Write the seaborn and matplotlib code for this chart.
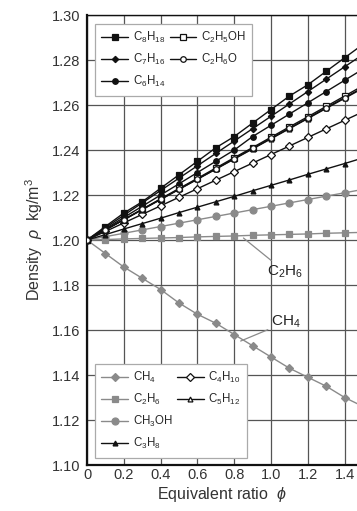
import matplotlib
matplotlib.use("Agg")
import matplotlib.pyplot as plt
from matplotlib.lines import Line2D
import seaborn as sns

# equivalent ratio
phi = [0.0, 0.1, 0.2, 0.3, 0.4, 0.5, 0.6, 0.7, 0.8, 0.9, 1.0, 1.1, 1.2, 1.3, 1.4, 1.5]

# density (kg/m3)
c8h18 = [1.200, 1.206, 1.212, 1.217, 1.223, 1.229, 1.235, 1.241, 1.246, 1.252, 1.258, 1.264, 1.269, 1.275, 1.281, 1.287]
c7h16 = [1.200, 1.2055, 1.211, 1.2165, 1.222, 1.2275, 1.233, 1.2385, 1.244, 1.2495, 1.255, 1.2605, 1.266, 1.2715, 1.277, 1.2825]
c6h14 = [1.200, 1.205, 1.210, 1.215, 1.220, 1.225, 1.230, 1.235, 1.240, 1.246, 1.251, 1.256, 1.261, 1.266, 1.271, 1.276]
c2h5oh = [1.200, 1.2046, 1.2091, 1.2137, 1.2183, 1.2229, 1.2274, 1.232, 1.2366, 1.2411, 1.2457, 1.2503, 1.2548, 1.2594, 1.264, 1.2686]
c2h6o = [1.200, 1.2045, 1.209, 1.2136, 1.2181, 1.2226, 1.2271, 1.2316, 1.2362, 1.2407, 1.2452, 1.2497, 1.2542, 1.2588, 1.2633, 1.2678]
c5h12 = [1.200, 1.2045, 1.209, 1.2135, 1.218, 1.2225, 1.227, 1.2315, 1.236, 1.2405, 1.245, 1.2495, 1.254, 1.2585, 1.263, 1.2675]
c4h10 = [1.200, 1.2038, 1.2076, 1.2114, 1.2152, 1.219, 1.2228, 1.2266, 1.2304, 1.2342, 1.238, 1.2418, 1.2456, 1.2494, 1.2532, 1.257]
c3h8 = [1.200, 1.2024, 1.2049, 1.2073, 1.2097, 1.2122, 1.2146, 1.217, 1.2194, 1.2219, 1.2243, 1.2267, 1.2292, 1.2316, 1.234, 1.2365]
ch3oh = [1.200, 1.2015, 1.203, 1.2045, 1.206, 1.2075, 1.209, 1.2105, 1.212, 1.2135, 1.215, 1.2165, 1.218, 1.2195, 1.221, 1.2225]
c2h6 = [1.200, 1.2002, 1.2005, 1.2007, 1.2009, 1.2011, 1.2014, 1.2016, 1.2018, 1.2021, 1.2023, 1.2025, 1.2027, 1.203, 1.2032, 1.2034]
ch4 = [1.200, 1.194, 1.188, 1.183, 1.178, 1.172, 1.167, 1.163, 1.158, 1.153, 1.148, 1.143, 1.139, 1.135, 1.130, 1.126]

x_ticks = [0, 0.2, 0.4, 0.6, 0.8, 1.0, 1.2, 1.4]
x_tick_labels = ["0", "0.2", "0.4", "0.6", "0.8", "1.0", "1.2", "1.4"]
y_ticks = [1.10, 1.12, 1.14, 1.16, 1.18, 1.20, 1.22, 1.24, 1.26, 1.28, 1.30]

sns.set_style("white")
plt.rcParams['font.family'] = ['Liberation Sans', 'DejaVu Sans']
plt.rcParams['mathtext.fontset'] = 'custom'
plt.rcParams['mathtext.rm'] = 'Liberation Sans'
plt.rcParams['mathtext.it'] = 'Liberation Sans:italic'

BLACK = "#111111"
GRAY = "#8a8a8a"

fig = plt.figure(figsize=(3.57, 5.11), dpi=100)
ax = fig.add_axes([0.2437, 0.09, 0.7563, 0.8806])

# (label, values, color, marker, size, fill)
series_top = [
    ("C$_8$H$_{18}$", c8h18, BLACK, "s", 4, BLACK),
    ("C$_7$H$_{16}$", c7h16, BLACK, "D", 3.2, BLACK),
    ("C$_6$H$_{14}$", c6h14, BLACK, "o", 4, BLACK),
    ("C$_2$H$_5$OH", c2h5oh, BLACK, "s", 4, "white"),
    ("C$_2$H$_6$O", c2h6o, BLACK, "o", 4, "white"),
]
series_bottom = [
    ("CH$_4$", ch4, GRAY, "D", 4.5, GRAY),
    ("C$_2$H$_6$", c2h6, GRAY, "s", 4.5, GRAY),
    ("CH$_3$OH", ch3oh, GRAY, "o", 5, GRAY),
    ("C$_3$H$_8$", c3h8, BLACK, "^", 3.5, BLACK),
    ("C$_4$H$_{10}$", c4h10, BLACK, "D", 4.5, "white"),
    ("C$_5$H$_{12}$", c5h12, BLACK, "^", 3.5, "white"),
]

handles_top = []
handles_bottom = []
for group, handles in ((series_bottom, handles_bottom), (series_top, handles_top)):
    for label, vals, col, mk, ms, fc in group:
        sns.lineplot(x=phi, y=vals, ax=ax, color=col, marker=mk, markersize=ms,
                     markerfacecolor=fc, markeredgecolor=col, markeredgewidth=0.9,
                     linewidth=1.0, zorder=3)
        handles.append(Line2D([], [], color=col, marker=mk, markersize=ms,
                              markerfacecolor=fc, markeredgecolor=col,
                              markeredgewidth=0.9, linewidth=1.0, label=label))

ax.set_xlim(0, 1.467)
ax.set_ylim(1.10, 1.30)
ax.set_xticks(x_ticks)
ax.set_xticklabels(x_tick_labels)
ax.set_yticks(y_ticks)
ax.set_yticklabels([f"{v:.2f}" for v in y_ticks])
ax.grid(True, color="#555555", linewidth=0.9)
ax.set_axisbelow(True)
ax.tick_params(direction="in", length=4, width=1, labelsize=10.5, colors="#333333",
               pad=5)
ax.tick_params(axis="x", pad=2)

for side in ("left", "bottom", "top"):
    ax.spines[side].set_color("#111111")
    ax.spines[side].set_linewidth(1.6)
ax.spines["top"].set_linewidth(1.0)
ax.spines["right"].set_visible(False)

ax.set_xlabel(r"Equivalent ratio  $\phi$", fontsize=11.5, color="#333333", labelpad=2)
ax.set_ylabel(r"Density  $\rho$  kg/m$^3$", fontsize=11.5, color="#333333", labelpad=5)

leg_kw = dict(ncol=2, fontsize=8.3, frameon=True, fancybox=False, framealpha=1,
              edgecolor="#aaaaaa", handlelength=2.3, handletextpad=0.4,
              columnspacing=0.4, labelspacing=0.6, borderpad=0.55,
              borderaxespad=0)
leg1 = ax.legend(handles=handles_top, loc="upper left",
                 bbox_to_anchor=(0.03, 0.98), **leg_kw)
leg1.get_frame().set_linewidth(0.9)
ax.add_artist(leg1)

blank = Line2D([], [], linestyle="none", label=" ")
leg2 = ax.legend(handles=handles_bottom + [blank, blank],
                 loc="lower left", bbox_to_anchor=(0.03, 0.016), **leg_kw)
leg2.get_frame().set_linewidth(0.9)

ax.annotate("C$_2$H$_6$", xy=(0.85, 1.2009), xytext=(0.98, 1.1858),
            fontsize=11, color="#222222", va="center", ha="left",
            arrowprops=dict(arrowstyle="-", color=GRAY, linewidth=0.9,
                            shrinkA=0, shrinkB=0))
ax.annotate("CH$_4$", xy=(0.835, 1.1551), xytext=(1.0, 1.1635),
            fontsize=11, color="#222222", va="center", ha="left",
            arrowprops=dict(arrowstyle="-", color=GRAY, linewidth=0.9,
                            shrinkA=0, shrinkB=0))

fig.savefig("out.png", dpi=100)
